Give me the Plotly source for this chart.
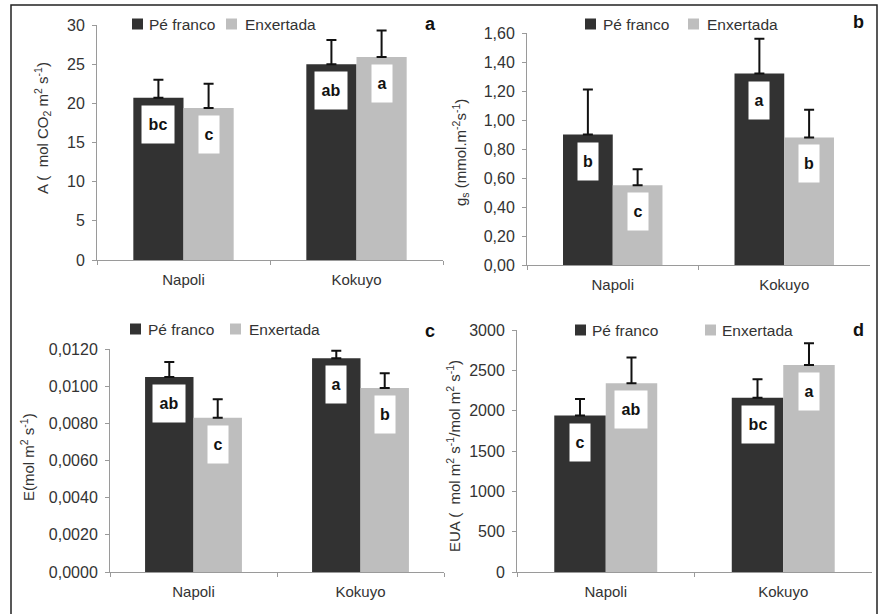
import plotly.graph_objects as go

W, H = 879, 614

categories = ["Napoli", "Kokuyo"]
series_names = ["Pé franco", "Enxertada"]

# Panel a: A
a_pf = [20.7, 25.0]
a_pf_sd = [2.3, 3.1]
a_enx = [19.4, 25.9]
a_enx_sd = [3.1, 3.4]
a_pf_letters = ["bc", "ab"]
a_enx_letters = ["c", "a"]

# Panel b: gs
b_pf = [0.90, 1.32]
b_pf_sd = [0.31, 0.24]
b_enx = [0.55, 0.88]
b_enx_sd = [0.11, 0.19]
b_pf_letters = ["b", "a"]
b_enx_letters = ["c", "b"]

# Panel c: E
c_pf = [0.0105, 0.0115]
c_pf_sd = [0.0008, 0.0004]
c_enx = [0.0083, 0.0099]
c_enx_sd = [0.0010, 0.0008]
c_pf_letters = ["ab", "a"]
c_enx_letters = ["c", "b"]

# Panel d: EUA
d_pf = [1940, 2160]
d_pf_sd = [205, 230]
d_enx = [2340, 2566]
d_enx_sd = [320, 270]
d_pf_letters = ["c", "bc"]
d_enx_letters = ["ab", "a"]

panel_tags = ["a", "b", "c", "d"]
y_titles = [
    "A (  mol CO<sub>2</sub> m<sup>2</sup> s<sup>-1</sup>)",
    "g<sub>s</sub> (mmol.m<sup>-2</sup>s<sup>-1</sup>)",
    "E(mol m<sup>2</sup> s<sup>-1</sup>)",
    "EUA (  mol m<sup>2</sup> s<sup>-1</sup>/mol m<sup>2</sup> s<sup>-1</sup>)",
]
y_ranges = [[0, 30], [0, 1.6], [0, 0.012], [0, 3000]]
y_dticks = [5, 0.2, 0.002, 500]
y_formats = ["d", ".2f", ".4f", "d"]

DARK = "#323232"
LIGHT = "#bebebe"
COLORS = [DARK, LIGHT]
TXT = "#333333"
FONT = "Liberation Sans, Arial, sans-serif"
BARGAP = 0.42

# pixel layout of each plot area: (x0, x1, ytop, ybottom)
boxes = [
    (97, 443, 25, 260),
    (527, 870, 33, 265),
    (110, 444, 349, 572),
    (517, 872, 330, 572),
]
# legend key layout per panel: (square1 x, text1 x, square2 x, text2 x, y)
legend_keys = [
    (132, 147, 226, 243, 24),
    (585, 601, 688, 705, 24),
    (130, 146, 230, 247, 329),
    (575, 590, 705, 720, 330),
]
tag_pos = [(430, 24), (858, 22), (430, 331), (858, 330)]
title_pos = [(43, 128), (460, 153), (27, 457), (453, 456)]

data = [
    (a_pf, a_pf_sd, a_enx, a_enx_sd, a_pf_letters, a_enx_letters),
    (b_pf, b_pf_sd, b_enx, b_enx_sd, b_pf_letters, b_enx_letters),
    (c_pf, c_pf_sd, c_enx, c_enx_sd, c_pf_letters, c_enx_letters),
    (d_pf, d_pf_sd, d_enx, d_enx_sd, d_pf_letters, d_enx_letters),
]

fig = go.Figure()
annotations = []
shapes = []
layout = dict(
    template="none",
    width=W, height=H,
    margin=dict(l=0, r=0, t=0, b=0, pad=0, autoexpand=False),
    paper_bgcolor="white", plot_bgcolor="white",
    barmode="group", bargap=BARGAP, bargroupgap=0,
    separators=",.", showlegend=False,
    font=dict(family=FONT, size=16, color=TXT),
)


def px_x(v):
    return v / W


def px_y(v):
    return 1 - v / H


for i in range(4):
    pf, pf_sd, enx, enx_sd, pf_l, enx_l = data[i]
    n = "" if i == 0 else str(i + 1)
    xa, ya = "x" + n, "y" + n
    for name, vals, sd, col in [(series_names[0], pf, pf_sd, DARK),
                                (series_names[1], enx, enx_sd, LIGHT)]:
        fig.add_trace(go.Bar(
            x=categories, y=vals, name=name,
            marker=dict(color=col, line=dict(width=0)),
            error_y=dict(type="data", array=sd, arrayminus=[0] * len(sd),
                         symmetric=False, color="#111111", thickness=2, width=5),
            xaxis=xa, yaxis=ya,
        ))
    x0, x1, yt, yb = boxes[i]
    layout["xaxis" + n] = dict(
        domain=[px_x(x0), px_x(x1)], anchor=ya, automargin=False,
        showline=True, linecolor="#9a9a9a", linewidth=1,
        ticks="outside", ticklen=4, tickcolor="#9a9a9a", tickson="boundaries",
        tickfont=dict(size=15, color=TXT), ticklabelstandoff=6,
        showgrid=False, zeroline=False, range=[-0.5, 1.5],
    )
    layout["yaxis" + n] = dict(
        domain=[px_y(yb), px_y(yt)], anchor=xa, automargin=False,
        range=y_ranges[i], dtick=y_dticks[i], tickformat=y_formats[i],
        showline=True, linecolor="#9a9a9a", linewidth=1,
        ticks="outside", ticklen=4, tickcolor="#9a9a9a",
        tickfont=dict(size=16, color=TXT), ticklabelstandoff=4,
        showgrid=False, zeroline=False,
    )
    # legend keys
    s1, t1, s2, t2, ly = legend_keys[i]
    for sx, tx, name, col in [(s1, t1, series_names[0], COLORS[0]),
                              (s2, t2, series_names[1], COLORS[1])]:
        shapes.append(dict(
            type="rect", xref="paper", yref="paper",
            x0=px_x(sx), x1=px_x(sx + 11), y0=px_y(ly + 5.5), y1=px_y(ly - 5.5),
            line=dict(width=0), fillcolor=col,
        ))
        annotations.append(dict(
            x=px_x(tx), y=px_y(ly), xref="paper", yref="paper",
            text=name, showarrow=False, xanchor="left", yanchor="middle",
            font=dict(size=15.5, color=TXT),
        ))
    # letters inside white boxes
    off = (1 - BARGAP) / 4
    for j in range(len(categories)):
        for vals, letters, sgn in [(pf, pf_l, -1), (enx, enx_l, 1)]:
            t = letters[j]
            annotations.append(dict(
                x=j + sgn * off, y=vals[j], xref=xa, yref=ya,
                text="<b>" + t + "</b>", showarrow=False,
                yanchor="top", yshift=-7,
                bgcolor="white", borderpad=1,
                width=6 + 12 * len(t), height=35, valign="middle",
                font=dict(size=16, color="#111111"),
            ))
    tx, ty = tag_pos[i]
    annotations.append(dict(
        x=px_x(tx), y=px_y(ty), xref="paper", yref="paper",
        text="<b>" + panel_tags[i] + "</b>", showarrow=False,
        xanchor="center", yanchor="middle",
        font=dict(size=18, color="#111111"),
    ))
    hx, hy = title_pos[i]
    annotations.append(dict(
        x=px_x(hx), y=px_y(hy), xref="paper", yref="paper",
        text=y_titles[i], showarrow=False, textangle=-90,
        xanchor="center", yanchor="middle",
        font=dict(size=15, color=TXT),
    ))

shapes.append(dict(
    type="rect", xref="paper", yref="paper",
    x0=px_x(11), x1=px_x(877), y0=px_y(620), y1=px_y(5),
    line=dict(color="#222222", width=1.5), fillcolor="rgba(0,0,0,0)",
))
layout["annotations"] = annotations
layout["shapes"] = shapes
fig.update_layout(**layout)

page_fix = (
    "document.documentElement.style.margin='0';"
    "document.documentElement.style.padding='0';"
    "document.documentElement.style.overflow='hidden';"
    "document.body.style.margin='0';"
    "document.body.style.padding='0';"
    "document.body.style.overflow='hidden';"
    "var gd=document.getElementById('{plot_id}');"
    "gd.style.position='fixed';gd.style.left='0px';gd.style.top='0px';"
)
fig.write_html("out.html", config={"displayModeBar": False}, post_script=page_fix)
